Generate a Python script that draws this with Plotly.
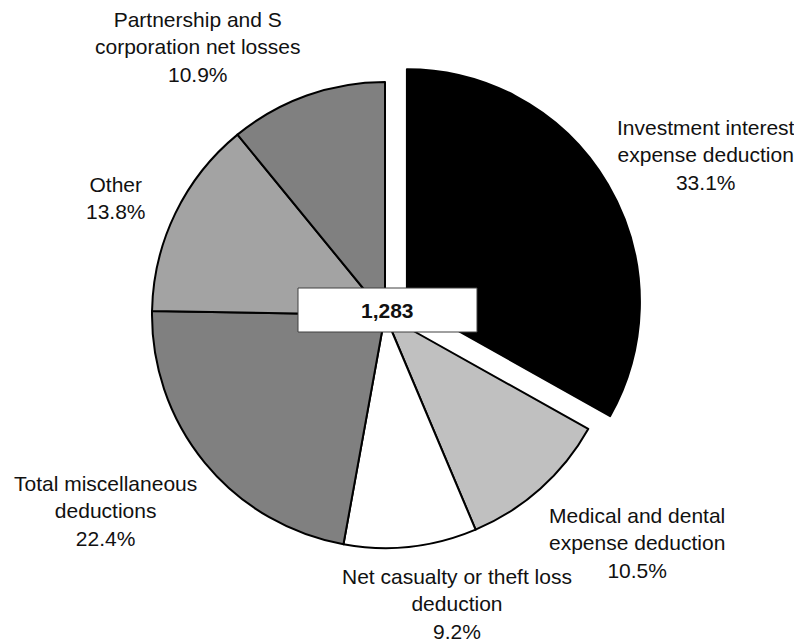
import plotly.graph_objects as go

# page is 802x643; plotly's page puts the graph div at an 8px body margin
PAGE_OFF = 8
W, H = 802 - PAGE_OFF, 643 - PAGE_OFF

categories = [
    "Investment interest expense deduction",
    "Medical and dental expense deduction",
    "Net casualty or theft loss deduction",
    "Total miscellaneous deductions",
    "Other",
    "Partnership and S corporation net losses",
]
shares = [33.1, 10.5, 9.2, 22.4, 13.8, 10.9]
total_label = "1,283"

label_text = [
    "Investment interest<br>expense deduction<br>33.1%",
    "Medical and dental<br>expense deduction<br>10.5%",
    "Net casualty or theft loss<br>deduction<br>9.2%",
    "Total miscellaneous<br>deductions<br>22.4%",
    "Other<br>13.8%",
    "Partnership and S<br>corporation net losses<br>10.9%",
]

colors = ["#000000", "#c0c0c0", "#ffffff", "#808080", "#a3a3a3", "#808080"]
pulls = [0.109, 0, 0, 0, 0, 0]


def px(x):
    return (x - PAGE_OFF) / W


def py(y):
    return 1 - (y - PAGE_OFF) / H


# pie centre and radius in page pixels
cx, cy, r = 385, 315, 233
half = r * (1 + max(pulls))

fig = go.Figure(go.Pie(
    labels=categories,
    values=shares,
    sort=False,
    direction="clockwise",
    rotation=0,
    pull=pulls,
    marker=dict(colors=colors, line=dict(color="#000000", width=2)),
    textinfo="none",
    hoverinfo="label+percent",
    domain=dict(x=[px(cx - half), px(cx + half)], y=[py(cy + half), py(cy - half)]),
    showlegend=False,
))

FONT = "Liberation Sans, Arial, sans-serif"
# label block centres in page pixels
label_pos = [(706, 155), (637, 543), (457, 604), (105, 511), (116, 198), (197, 47)]

annotations = []
for t, (lx, ly) in zip(label_text, label_pos):
    annotations.append(dict(
        x=px(lx), y=py(ly), xref="paper", yref="paper",
        text=t, showarrow=False, xanchor="center", yanchor="middle", align="center",
        font=dict(family=FONT, size=21, color="#111111"),
    ))

# centre box
bx0, bx1, by0, by1 = 298, 477, 288, 332
annotations.append(dict(
    x=px((bx0 + bx1) / 2), y=py((by0 + by1) / 2), xref="paper", yref="paper",
    text="<b>" + total_label + "</b>", showarrow=False, xanchor="center", yanchor="middle",
    font=dict(family=FONT, size=21, color="#111111"),
))

fig.update_layout(
    width=W, height=H,
    margin=dict(l=0, r=0, t=0, b=0),
    paper_bgcolor="white", plot_bgcolor="white",
    annotations=annotations,
    shapes=[dict(type="rect", xref="paper", yref="paper",
                 x0=px(bx0), x1=px(bx1), y0=py(by1), y1=py(by0),
                 fillcolor="white", line=dict(color="#404040", width=1), layer="above")],
)

fig.write_html("out.html")
